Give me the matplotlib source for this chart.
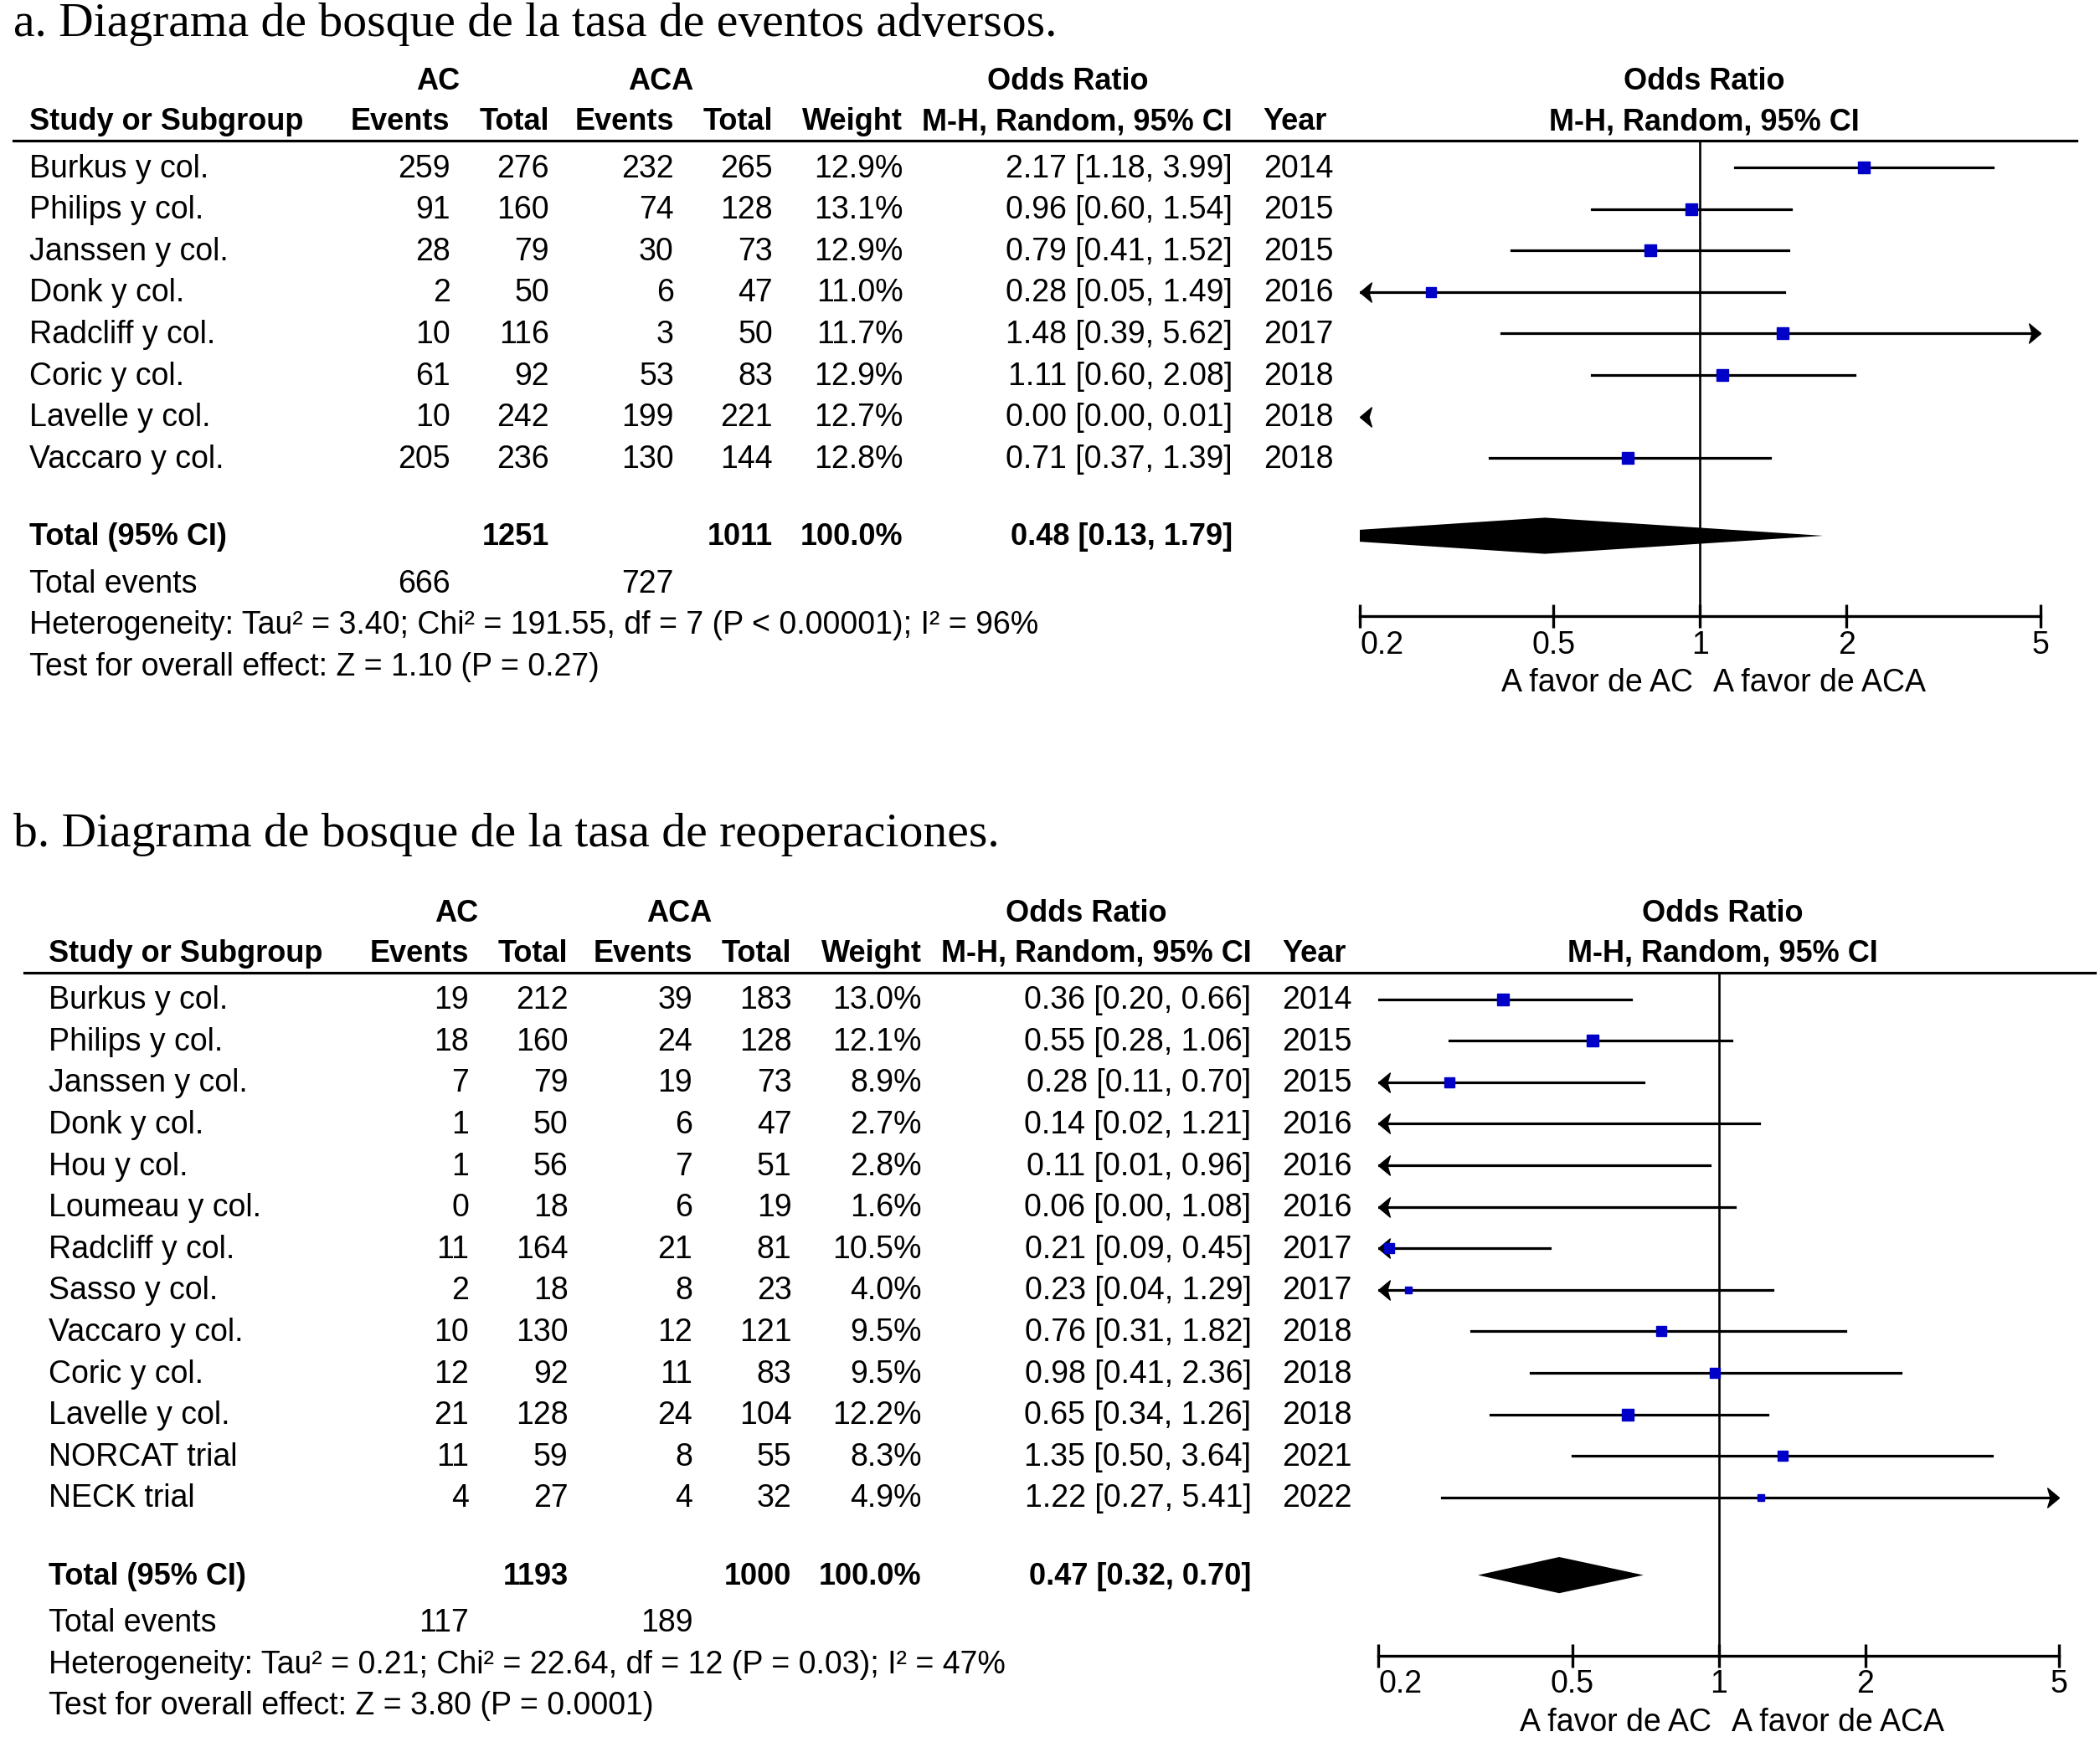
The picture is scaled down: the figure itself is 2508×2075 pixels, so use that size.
import matplotlib
matplotlib.use("Agg")
import matplotlib.pyplot as plt

# ---- panel a: adverse events ----
a_studies = ["Burkus y col.", "Philips y col.", "Janssen y col.", "Donk y col.",
             "Radcliff y col.", "Coric y col.", "Lavelle y col.", "Vaccaro y col."]
a_ac_events = [259, 91, 28, 2, 10, 61, 10, 205]
a_ac_total = [276, 160, 79, 50, 116, 92, 242, 236]
a_aca_events = [232, 74, 30, 6, 3, 53, 199, 130]
a_aca_total = [265, 128, 73, 47, 50, 83, 221, 144]
a_weight = [12.9, 13.1, 12.9, 11.0, 11.7, 12.9, 12.7, 12.8]
a_or = [2.17, 0.96, 0.79, 0.28, 1.48, 1.11, 0.00, 0.71]
a_lo = [1.18, 0.60, 0.41, 0.05, 0.39, 0.60, 0.00, 0.37]
a_hi = [3.99, 1.54, 1.52, 1.49, 5.62, 2.08, 0.01, 1.39]
a_year = [2014, 2015, 2015, 2016, 2017, 2018, 2018, 2018]
a_sum = [1251, 1011, 100.0, 0.48, 0.13, 1.79]   # total AC, total ACA, weight, OR, lo, hi
a_events = [666, 727]
a_het = "Heterogeneity: Tau\u00b2 = 3.40; Chi\u00b2 = 191.55, df = 7 (P < 0.00001); I\u00b2 = 96%"
a_test = "Test for overall effect: Z = 1.10 (P = 0.27)"

# ---- panel b: reoperations ----
b_studies = ["Burkus y col.", "Philips y col.", "Janssen y col.", "Donk y col.",
             "Hou y col.", "Loumeau y col.", "Radcliff y col.", "Sasso y col.",
             "Vaccaro y col.", "Coric y col.", "Lavelle y col.", "NORCAT trial", "NECK trial"]
b_ac_events = [19, 18, 7, 1, 1, 0, 11, 2, 10, 12, 21, 11, 4]
b_ac_total = [212, 160, 79, 50, 56, 18, 164, 18, 130, 92, 128, 59, 27]
b_aca_events = [39, 24, 19, 6, 7, 6, 21, 8, 12, 11, 24, 8, 4]
b_aca_total = [183, 128, 73, 47, 51, 19, 81, 23, 121, 83, 104, 55, 32]
b_weight = [13.0, 12.1, 8.9, 2.7, 2.8, 1.6, 10.5, 4.0, 9.5, 9.5, 12.2, 8.3, 4.9]
b_or = [0.36, 0.55, 0.28, 0.14, 0.11, 0.06, 0.21, 0.23, 0.76, 0.98, 0.65, 1.35, 1.22]
b_lo = [0.20, 0.28, 0.11, 0.02, 0.01, 0.00, 0.09, 0.04, 0.31, 0.41, 0.34, 0.50, 0.27]
b_hi = [0.66, 1.06, 0.70, 1.21, 0.96, 1.08, 0.45, 1.29, 1.82, 2.36, 1.26, 3.64, 5.41]
b_year = [2014, 2015, 2015, 2016, 2016, 2016, 2017, 2017, 2018, 2018, 2018, 2021, 2022]
b_sum = [1193, 1000, 100.0, 0.47, 0.32, 0.70]
b_events = [117, 189]
b_het = "Heterogeneity: Tau\u00b2 = 0.21; Chi\u00b2 = 22.64, df = 12 (P = 0.03); I\u00b2 = 47%"
b_test = "Test for overall effect: Z = 3.80 (P = 0.0001)"

ticks = [0.2, 0.5, 1, 2, 5]
tick_labels = ["0.2", "0.5", "1", "2", "5"]

# layout is worked out in a 1568 x 1297 grid, the saved png is 1.6x that
W, H = 1567.5, 1296.875
FS = 27
FS_BOLD = 26
SANS = "Liberation Sans"
BLUE = "#0000c8"
# arrow heads with the tip on the origin, notched back like RevMan
LEFT_HEAD = [(0, 0), (1.2, 1), (0.9, 0), (1.2, -1), (0, 0)]
RIGHT_HEAD = [(0, 0), (-1.2, 1), (-0.9, 0), (-1.2, -1), (0, 0)]

fig = plt.figure(figsize=(25.08, 20.75), dpi=100)
bg = fig.add_axes([0, 0, 1, 1])
bg.set_xlim(0, W)
bg.set_ylim(H, 0)
bg.axis("off")


def txt(x, y, s, ha="left", bold=False):
    # +1 nudges the text centre down a touch, matplotlib centres on the full line box
    bg.text(x, y + 1, s, ha=ha, va="center", fontsize=FS_BOLD if bold else FS, family=SANS,
            fontweight="bold" if bold else "normal")


def fmt_ci(o, lo, hi):
    return "%.2f [%.2f, %.2f]" % (o, lo, hi)


def draw_panel(title, title_y, dx, dy, studies, ace, act, acae, acat, wt,
               ors, los, his, years, summ, events, het, test):
    bg.text(10, title_y, title, ha="left", va="center", fontsize=41.5,
            family="Liberation Serif")
    # column right edges
    c_ev1, c_tot1, c_ev2, c_tot2, c_w, c_ci, c_year = (336 + dx, 410 + dx, 503 + dx,
                                                       577 + dx, 674 + dx, 920 + dx, 943 + dx)
    fx0, fx1 = 1015 + dx, 1523 + dx
    fmid = 1272 + dx
    h1, h2 = 60 + dy, 90 + dy
    txt(327 + dx, h1, "AC", "center", True)
    txt(493 + dx, h1, "ACA", "center", True)
    txt(797 + dx, h1, "Odds Ratio", "center", True)
    txt(fmid, h1, "Odds Ratio", "center", True)
    txt(22 + dx, h2, "Study or Subgroup", bold=True)
    txt(c_ev1, h2, "Events", "right", True)
    txt(c_tot1, h2, "Total", "right", True)
    txt(c_ev2, h2, "Events", "right", True)
    txt(c_tot2, h2, "Total", "right", True)
    txt(c_w, h2, "Weight", "right", True)
    txt(c_ci, h2, "M-H, Random, 95% CI", "right", True)
    txt(c_year, h2, "Year", bold=True)
    txt(fmid, h2, "M-H, Random, 95% CI", "center", True)
    line_y = 105 + dy
    bg.plot([10 + dx * 0.6, 1550 + dx], [line_y, line_y], color="black", lw=2.3)

    n = len(studies)
    rows = [125 + dy + 31 * i for i in range(n)]
    for i, y in enumerate(rows):
        txt(22 + dx, y, studies[i])
        txt(c_ev1, y, str(ace[i]), "right")
        txt(c_tot1, y, str(act[i]), "right")
        txt(c_ev2, y, str(acae[i]), "right")
        txt(c_tot2, y, str(acat[i]), "right")
        txt(c_w, y, "%.1f%%" % wt[i], "right")
        txt(c_ci, y, fmt_ci(ors[i], los[i], his[i]), "right")
        txt(c_year, y, str(years[i]))

    y_tot = rows[-1] + 58
    txt(22 + dx, y_tot, "Total (95% CI)", bold=True)
    txt(c_tot1, y_tot, str(summ[0]), "right", True)
    txt(c_tot2, y_tot, str(summ[1]), "right", True)
    txt(c_w, y_tot, "%.1f%%" % summ[2], "right", True)
    txt(c_ci, y_tot, fmt_ci(summ[3], summ[4], summ[5]), "right", True)
    txt(22 + dx, y_tot + 35, "Total events")
    txt(c_ev1, y_tot + 35, str(events[0]), "right")
    txt(c_ev2, y_tot + 35, str(events[1]), "right")
    txt(22 + dx, y_tot + 66, het)
    txt(22 + dx, y_tot + 97, test)

    # forest plot
    axis_y = y_tot + 60
    ax = fig.add_axes([fx0 / W, 1 - axis_y / H, (fx1 - fx0) / W, (axis_y - line_y) / H])
    ax.set_xscale("log")
    ax.set_xlim(0.2, 5)
    ax.set_ylim(axis_y, line_y)
    ax.patch.set_alpha(0)
    for s in ["top", "left", "right"]:
        ax.spines[s].set_visible(False)
    ax.spines["bottom"].set_linewidth(2.4)
    ax.set_yticks([])
    ax.minorticks_off()
    ax.set_xticks(ticks)
    ax.set_xticklabels(tick_labels, fontsize=FS, family=SANS)
    ax.tick_params(axis="x", which="both", direction="inout", length=20, width=2.4, pad=2)
    ax.get_xticklabels()[0].set_ha("left")
    ax.axvline(1, color="black", lw=1.9)

    for i, y in enumerate(rows):
        lo, hi = los[i], his[i]
        if hi > 0.2 and lo < 5:
            ax.plot([max(lo, 0.2), min(hi, 5)], [y, y], color="black", lw=2.3)
        if lo < 0.2:
            ax.plot(0.2, y, marker=LEFT_HEAD, ms=20, color="black", clip_on=False)
        if hi > 5:
            ax.plot(5, y, marker=RIGHT_HEAD, ms=20, color="black", clip_on=False)
        ax.plot(ors[i], y, marker="s", ms=10.0 * (wt[i] / 13.0) ** 0.5, color=BLUE, mec=BLUE)

    o, lo, hi = summ[3], summ[4], summ[5]
    ax.fill([lo, o, hi, o], [y_tot, y_tot - 13.5, y_tot, y_tot + 13.5], color="black", lw=0)

    txt(1192 + dx, axis_y + 49, "A favor de AC", "center")
    txt(1358 + dx, axis_y + 49, "A favor de ACA", "center")


draw_panel("a. Diagrama de bosque de la tasa de eventos adversos.", 18, 0, 0,
           a_studies, a_ac_events, a_ac_total, a_aca_events, a_aca_total, a_weight,
           a_or, a_lo, a_hi, a_year, a_sum, a_events, a_het, a_test)
draw_panel("b. Diagrama de bosque de la tasa de reoperaciones.", 623, 14, 621,
           b_studies, b_ac_events, b_ac_total, b_aca_events, b_aca_total, b_weight,
           b_or, b_lo, b_hi, b_year, b_sum, b_events, b_het, b_test)

fig.savefig("out.png", dpi=100, facecolor="white")
